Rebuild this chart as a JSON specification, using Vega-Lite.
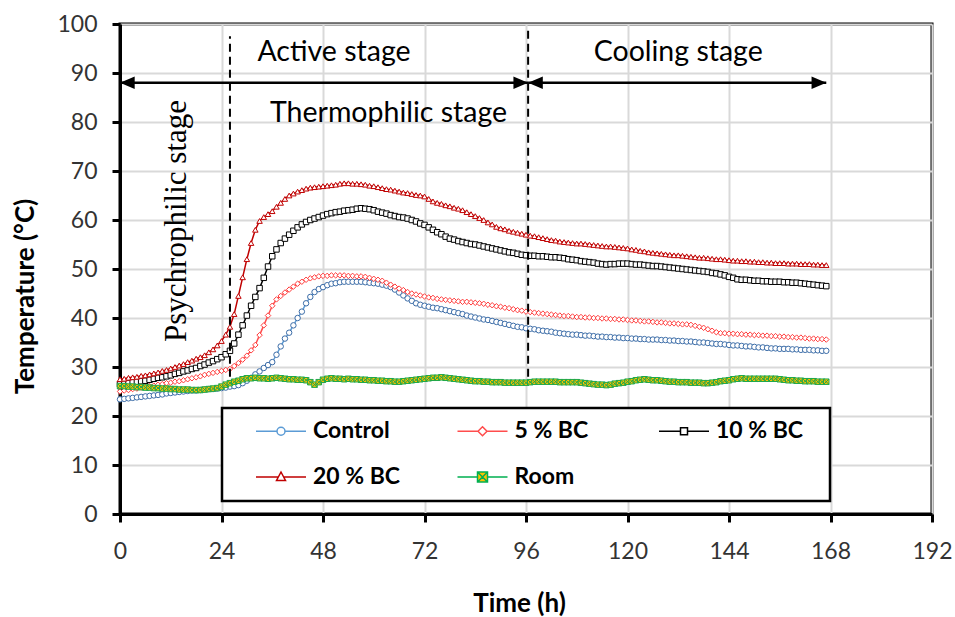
{
"$schema":"https://vega.github.io/schema/vega-lite/v6.json",
"width":812,"height":490,
"autosize":{"type":"none"},
"padding":{"left":120,"top":24,"right":23,"bottom":103},
"background":"white",
"config":{
 "font":"Lato",
 "view":{"stroke":"black","strokeWidth":3},
 "axis":{"domainColor":"black","domainWidth":3,"tickColor":"black","tickWidth":3,"tickSize":8,"gridColor":"#D9D9D9","gridWidth":2,"labelFont":"Lato","labelFontSize":23,"labelColor":"#333333","labelFlush":false,"titleFont":"Lato","titleFontWeight":"bold","titleFontSize":26,"titleColor":"black"}
},
"datasets":{
"main":[
{"t":0,"c":23.4,"b5":25.0,"b10":26.5,"b20":27.5,"r":26.1},
{"t":1,"c":23.5,"b5":25.2,"b10":26.6,"b20":27.6,"r":26.1},
{"t":2,"c":23.6,"b5":25.3,"b10":26.7,"b20":27.8,"r":26.0},
{"t":3,"c":23.7,"b5":25.5,"b10":26.9,"b20":27.9,"r":26.0},
{"t":4,"c":23.8,"b5":25.6,"b10":27.0,"b20":28.0,"r":25.9},
{"t":5,"c":23.9,"b5":25.8,"b10":27.1,"b20":28.2,"r":25.9},
{"t":6,"c":24.0,"b5":25.9,"b10":27.2,"b20":28.3,"r":25.8},
{"t":7,"c":24.1,"b5":26.1,"b10":27.4,"b20":28.5,"r":25.8},
{"t":8,"c":24.2,"b5":26.2,"b10":27.6,"b20":28.7,"r":25.7},
{"t":9,"c":24.3,"b5":26.4,"b10":27.8,"b20":28.9,"r":25.7},
{"t":10,"c":24.4,"b5":26.5,"b10":27.9,"b20":29.2,"r":25.6},
{"t":11,"c":24.6,"b5":26.7,"b10":28.1,"b20":29.4,"r":25.6},
{"t":12,"c":24.7,"b5":26.8,"b10":28.3,"b20":29.7,"r":25.5},
{"t":13,"c":24.8,"b5":27.0,"b10":28.6,"b20":30.0,"r":25.5},
{"t":14,"c":24.9,"b5":27.1,"b10":28.8,"b20":30.3,"r":25.4},
{"t":15,"c":25.0,"b5":27.3,"b10":29.1,"b20":30.6,"r":25.4},
{"t":16,"c":25.1,"b5":27.5,"b10":29.3,"b20":31.0,"r":25.4},
{"t":17,"c":25.2,"b5":27.7,"b10":29.6,"b20":31.3,"r":25.3},
{"t":18,"c":25.2,"b5":27.9,"b10":29.8,"b20":31.7,"r":25.3},
{"t":19,"c":25.3,"b5":28.1,"b10":30.2,"b20":32.0,"r":25.3},
{"t":20,"c":25.4,"b5":28.4,"b10":30.5,"b20":32.4,"r":25.4},
{"t":21,"c":25.5,"b5":28.6,"b10":30.9,"b20":33.0,"r":25.5},
{"t":22,"c":25.5,"b5":28.8,"b10":31.2,"b20":33.6,"r":25.6},
{"t":23,"c":25.6,"b5":29.0,"b10":31.6,"b20":34.4,"r":25.7},
{"t":24,"c":25.7,"b5":29.2,"b10":32.0,"b20":35.3,"r":26.0},
{"t":25,"c":25.8,"b5":29.4,"b10":32.6,"b20":36.6,"r":26.4},
{"t":26,"c":26.0,"b5":29.6,"b10":33.3,"b20":38.2,"r":26.7},
{"t":27,"c":26.1,"b5":30.2,"b10":34.8,"b20":40.8,"r":27.0},
{"t":28,"c":26.3,"b5":30.8,"b10":36.6,"b20":44.5,"r":27.2},
{"t":29,"c":26.7,"b5":31.5,"b10":38.5,"b20":48.3,"r":27.5},
{"t":30,"c":27.2,"b5":32.3,"b10":40.5,"b20":52.0,"r":27.7},
{"t":31,"c":27.8,"b5":33.4,"b10":42.5,"b20":55.3,"r":27.7},
{"t":32,"c":28.5,"b5":34.5,"b10":44.3,"b20":58.0,"r":27.8},
{"t":33,"c":29.1,"b5":36.5,"b10":46.1,"b20":59.8,"r":27.7},
{"t":34,"c":29.8,"b5":38.5,"b10":48.2,"b20":60.6,"r":27.7},
{"t":35,"c":30.4,"b5":40.5,"b10":50.5,"b20":61.2,"r":27.6},
{"t":36,"c":31.0,"b5":42.5,"b10":52.6,"b20":61.8,"r":27.7},
{"t":37,"c":32.5,"b5":43.8,"b10":54.0,"b20":62.7,"r":27.8},
{"t":38,"c":34.2,"b5":44.5,"b10":55.3,"b20":63.5,"r":27.7},
{"t":39,"c":35.8,"b5":45.2,"b10":56.2,"b20":64.3,"r":27.6},
{"t":40,"c":37.0,"b5":45.8,"b10":57.0,"b20":65.0,"r":27.5},
{"t":41,"c":38.5,"b5":46.4,"b10":57.8,"b20":65.4,"r":27.5},
{"t":42,"c":40.0,"b5":47.0,"b10":58.5,"b20":65.8,"r":27.4},
{"t":43,"c":41.3,"b5":47.4,"b10":59.1,"b20":66.1,"r":27.4},
{"t":44,"c":43.0,"b5":47.8,"b10":59.6,"b20":66.4,"r":27.3},
{"t":45,"c":44.3,"b5":48.1,"b10":60.0,"b20":66.6,"r":26.9},
{"t":46,"c":45.3,"b5":48.3,"b10":60.3,"b20":66.7,"r":26.4},
{"t":47,"c":45.9,"b5":48.5,"b10":60.6,"b20":66.8,"r":26.9},
{"t":48,"c":46.3,"b5":48.6,"b10":60.9,"b20":66.9,"r":27.4},
{"t":49,"c":46.7,"b5":48.6,"b10":61.2,"b20":67.0,"r":27.6},
{"t":50,"c":47.0,"b5":48.7,"b10":61.4,"b20":67.1,"r":27.7},
{"t":51,"c":47.1,"b5":48.7,"b10":61.6,"b20":67.2,"r":27.6},
{"t":52,"c":47.3,"b5":48.7,"b10":61.7,"b20":67.4,"r":27.6},
{"t":53,"c":47.4,"b5":48.7,"b10":61.9,"b20":67.5,"r":27.5},
{"t":54,"c":47.4,"b5":48.6,"b10":62.0,"b20":67.5,"r":27.6},
{"t":55,"c":47.4,"b5":48.6,"b10":62.1,"b20":67.4,"r":27.5},
{"t":56,"c":47.4,"b5":48.5,"b10":62.3,"b20":67.4,"r":27.5},
{"t":57,"c":47.4,"b5":48.5,"b10":62.4,"b20":67.3,"r":27.4},
{"t":58,"c":47.3,"b5":48.4,"b10":62.3,"b20":67.2,"r":27.4},
{"t":59,"c":47.2,"b5":48.2,"b10":62.2,"b20":67.0,"r":27.3},
{"t":60,"c":47.1,"b5":48.0,"b10":62.0,"b20":66.9,"r":27.3},
{"t":61,"c":47.0,"b5":47.8,"b10":61.7,"b20":66.7,"r":27.2},
{"t":62,"c":46.8,"b5":47.6,"b10":61.5,"b20":66.5,"r":27.2},
{"t":63,"c":46.6,"b5":47.2,"b10":61.3,"b20":66.3,"r":27.1},
{"t":64,"c":46.3,"b5":46.8,"b10":61.0,"b20":66.2,"r":27.1},
{"t":65,"c":45.8,"b5":46.4,"b10":60.8,"b20":66.0,"r":27.0},
{"t":66,"c":45.2,"b5":46.0,"b10":60.6,"b20":65.8,"r":27.0},
{"t":67,"c":44.6,"b5":45.7,"b10":60.5,"b20":65.6,"r":27.1},
{"t":68,"c":44.0,"b5":45.3,"b10":60.3,"b20":65.5,"r":27.2},
{"t":69,"c":43.5,"b5":45.0,"b10":60.0,"b20":65.3,"r":27.3},
{"t":70,"c":43.0,"b5":44.8,"b10":59.7,"b20":65.1,"r":27.4},
{"t":71,"c":42.7,"b5":44.6,"b10":59.3,"b20":65.0,"r":27.5},
{"t":72,"c":42.5,"b5":44.4,"b10":59.0,"b20":64.8,"r":27.6},
{"t":73,"c":42.3,"b5":44.2,"b10":58.5,"b20":64.3,"r":27.7},
{"t":74,"c":42.1,"b5":44.1,"b10":58.0,"b20":63.8,"r":27.8},
{"t":75,"c":42.0,"b5":43.9,"b10":57.5,"b20":63.5,"r":27.8},
{"t":76,"c":41.8,"b5":43.8,"b10":57.1,"b20":63.3,"r":27.9},
{"t":77,"c":41.6,"b5":43.7,"b10":56.6,"b20":63.0,"r":27.8},
{"t":78,"c":41.4,"b5":43.6,"b10":56.2,"b20":62.8,"r":27.7},
{"t":79,"c":41.2,"b5":43.5,"b10":56.0,"b20":62.5,"r":27.6},
{"t":80,"c":41.0,"b5":43.4,"b10":55.7,"b20":62.3,"r":27.5},
{"t":81,"c":40.8,"b5":43.3,"b10":55.5,"b20":62.0,"r":27.4},
{"t":82,"c":40.5,"b5":43.3,"b10":55.3,"b20":61.6,"r":27.3},
{"t":83,"c":40.3,"b5":43.2,"b10":55.1,"b20":61.2,"r":27.2},
{"t":84,"c":40.1,"b5":43.1,"b10":55.0,"b20":60.8,"r":27.1},
{"t":85,"c":39.9,"b5":43.0,"b10":54.8,"b20":60.4,"r":27.1},
{"t":86,"c":39.7,"b5":42.9,"b10":54.6,"b20":60.0,"r":27.0},
{"t":87,"c":39.6,"b5":42.7,"b10":54.4,"b20":59.5,"r":27.0},
{"t":88,"c":39.4,"b5":42.6,"b10":54.2,"b20":59.1,"r":26.9},
{"t":89,"c":39.2,"b5":42.4,"b10":54.0,"b20":58.6,"r":26.9},
{"t":90,"c":39.0,"b5":42.3,"b10":53.8,"b20":58.3,"r":26.9},
{"t":91,"c":38.8,"b5":42.1,"b10":53.6,"b20":58.1,"r":26.8},
{"t":92,"c":38.6,"b5":42.0,"b10":53.4,"b20":57.8,"r":26.8},
{"t":93,"c":38.4,"b5":41.8,"b10":53.3,"b20":57.6,"r":26.8},
{"t":94,"c":38.2,"b5":41.6,"b10":53.1,"b20":57.4,"r":26.8},
{"t":95,"c":38.1,"b5":41.5,"b10":52.9,"b20":57.2,"r":26.8},
{"t":96,"c":37.9,"b5":41.3,"b10":52.8,"b20":57.0,"r":26.8},
{"t":97,"c":37.8,"b5":41.2,"b10":52.7,"b20":56.8,"r":26.9},
{"t":98,"c":37.7,"b5":41.1,"b10":52.7,"b20":56.7,"r":27.0},
{"t":99,"c":37.5,"b5":41.0,"b10":52.6,"b20":56.5,"r":27.0},
{"t":100,"c":37.4,"b5":40.9,"b10":52.6,"b20":56.3,"r":27.0},
{"t":101,"c":37.3,"b5":40.8,"b10":52.5,"b20":56.1,"r":27.0},
{"t":102,"c":37.2,"b5":40.7,"b10":52.4,"b20":55.9,"r":27.0},
{"t":103,"c":37.0,"b5":40.6,"b10":52.4,"b20":55.8,"r":27.0},
{"t":104,"c":36.9,"b5":40.5,"b10":52.3,"b20":55.6,"r":26.9},
{"t":105,"c":36.8,"b5":40.4,"b10":52.2,"b20":55.5,"r":26.9},
{"t":106,"c":36.7,"b5":40.4,"b10":52.0,"b20":55.4,"r":26.9},
{"t":107,"c":36.6,"b5":40.3,"b10":51.9,"b20":55.3,"r":26.9},
{"t":108,"c":36.6,"b5":40.2,"b10":51.8,"b20":55.2,"r":26.9},
{"t":109,"c":36.5,"b5":40.2,"b10":51.6,"b20":55.2,"r":26.8},
{"t":110,"c":36.4,"b5":40.1,"b10":51.5,"b20":55.1,"r":26.7},
{"t":111,"c":36.4,"b5":40.1,"b10":51.4,"b20":55.0,"r":26.6},
{"t":112,"c":36.3,"b5":40.0,"b10":51.3,"b20":54.9,"r":26.5},
{"t":113,"c":36.2,"b5":40.0,"b10":51.1,"b20":54.8,"r":26.4},
{"t":114,"c":36.2,"b5":39.9,"b10":51.0,"b20":54.7,"r":26.4},
{"t":115,"c":36.1,"b5":39.9,"b10":50.9,"b20":54.6,"r":26.3},
{"t":116,"c":36.1,"b5":39.8,"b10":51.0,"b20":54.6,"r":26.4},
{"t":117,"c":36.0,"b5":39.8,"b10":51.0,"b20":54.5,"r":26.6},
{"t":118,"c":36.0,"b5":39.7,"b10":51.1,"b20":54.4,"r":26.7},
{"t":119,"c":35.9,"b5":39.7,"b10":51.1,"b20":54.3,"r":26.8},
{"t":120,"c":35.9,"b5":39.6,"b10":51.1,"b20":54.2,"r":27.0},
{"t":121,"c":35.8,"b5":39.5,"b10":51.0,"b20":54.0,"r":27.1},
{"t":122,"c":35.8,"b5":39.5,"b10":50.9,"b20":53.9,"r":27.3},
{"t":123,"c":35.7,"b5":39.4,"b10":50.9,"b20":53.7,"r":27.4},
{"t":124,"c":35.7,"b5":39.3,"b10":50.8,"b20":53.6,"r":27.5},
{"t":125,"c":35.6,"b5":39.3,"b10":50.7,"b20":53.4,"r":27.4},
{"t":126,"c":35.6,"b5":39.2,"b10":50.6,"b20":53.3,"r":27.3},
{"t":127,"c":35.6,"b5":39.1,"b10":50.6,"b20":53.2,"r":27.3},
{"t":128,"c":35.5,"b5":39.1,"b10":50.5,"b20":53.1,"r":27.2},
{"t":129,"c":35.5,"b5":39.0,"b10":50.4,"b20":53.0,"r":27.1},
{"t":130,"c":35.4,"b5":38.9,"b10":50.3,"b20":52.9,"r":27.0},
{"t":131,"c":35.4,"b5":38.9,"b10":50.2,"b20":52.8,"r":27.0},
{"t":132,"c":35.3,"b5":38.8,"b10":50.1,"b20":52.8,"r":26.9},
{"t":133,"c":35.3,"b5":38.7,"b10":50.0,"b20":52.7,"r":26.9},
{"t":134,"c":35.2,"b5":38.7,"b10":49.9,"b20":52.6,"r":26.9},
{"t":135,"c":35.2,"b5":38.6,"b10":49.8,"b20":52.5,"r":26.8},
{"t":136,"c":35.1,"b5":38.4,"b10":49.7,"b20":52.4,"r":26.8},
{"t":137,"c":35.0,"b5":38.2,"b10":49.6,"b20":52.3,"r":26.8},
{"t":138,"c":35.0,"b5":38.0,"b10":49.5,"b20":52.3,"r":26.7},
{"t":139,"c":34.9,"b5":37.7,"b10":49.4,"b20":52.2,"r":26.7},
{"t":140,"c":34.8,"b5":37.4,"b10":49.2,"b20":52.1,"r":26.8},
{"t":141,"c":34.7,"b5":37.1,"b10":49.1,"b20":52.0,"r":26.9},
{"t":142,"c":34.7,"b5":36.9,"b10":48.9,"b20":52.0,"r":27.1},
{"t":143,"c":34.6,"b5":36.9,"b10":48.7,"b20":51.9,"r":27.2},
{"t":144,"c":34.5,"b5":36.8,"b10":48.4,"b20":51.8,"r":27.3},
{"t":145,"c":34.4,"b5":36.8,"b10":48.2,"b20":51.7,"r":27.5},
{"t":146,"c":34.4,"b5":36.7,"b10":47.9,"b20":51.7,"r":27.6},
{"t":147,"c":34.3,"b5":36.7,"b10":47.8,"b20":51.6,"r":27.7},
{"t":148,"c":34.2,"b5":36.6,"b10":47.8,"b20":51.6,"r":27.6},
{"t":149,"c":34.2,"b5":36.6,"b10":47.7,"b20":51.5,"r":27.6},
{"t":150,"c":34.1,"b5":36.5,"b10":47.6,"b20":51.5,"r":27.6},
{"t":151,"c":34.0,"b5":36.5,"b10":47.6,"b20":51.4,"r":27.6},
{"t":152,"c":34.0,"b5":36.4,"b10":47.5,"b20":51.4,"r":27.6},
{"t":153,"c":33.9,"b5":36.4,"b10":47.5,"b20":51.3,"r":27.6},
{"t":154,"c":33.8,"b5":36.3,"b10":47.4,"b20":51.3,"r":27.6},
{"t":155,"c":33.8,"b5":36.3,"b10":47.4,"b20":51.2,"r":27.6},
{"t":156,"c":33.7,"b5":36.2,"b10":47.4,"b20":51.2,"r":27.5},
{"t":157,"c":33.7,"b5":36.2,"b10":47.3,"b20":51.2,"r":27.4},
{"t":158,"c":33.7,"b5":36.1,"b10":47.3,"b20":51.1,"r":27.3},
{"t":159,"c":33.6,"b5":36.1,"b10":47.2,"b20":51.1,"r":27.3},
{"t":160,"c":33.6,"b5":36.0,"b10":47.2,"b20":51.1,"r":27.2},
{"t":161,"c":33.5,"b5":36.0,"b10":47.1,"b20":51.0,"r":27.2},
{"t":162,"c":33.5,"b5":35.9,"b10":47.0,"b20":51.0,"r":27.1},
{"t":163,"c":33.5,"b5":35.8,"b10":46.9,"b20":51.0,"r":27.1},
{"t":164,"c":33.4,"b5":35.8,"b10":46.8,"b20":50.9,"r":27.1},
{"t":165,"c":33.4,"b5":35.7,"b10":46.7,"b20":50.9,"r":27.0},
{"t":166,"c":33.3,"b5":35.7,"b10":46.6,"b20":50.8,"r":27.0},
{"t":167,"c":33.3,"b5":35.6,"b10":46.5,"b20":50.8,"r":27.0}
],
"vlines":[{"t":26,"y1":28,"y2":97.5},{"t":96.5,"y1":28,"y2":99.5}],
"arrows":[{"x1":0,"x2":96.5,"y":88},{"x1":96.5,"x2":167,"y":88}],
"headsL":[{"t":0,"y":88},{"t":96.5,"y":88}],
"headsR":[{"t":96.5,"y":88},{"t":167,"y":88}],
"labels":[{"t":50.6,"y":92.5,"txt":"Active stage"},{"t":63.5,"y":80.1,"txt":"Thermophilic stage"},{"t":132,"y":92.5,"txt":"Cooling stage"}],
"vlabel":[{"t":15.7,"y":59.8,"txt":"Psychrophilic stage"}]
},
"layer":[
{
 "data":{"name":"main"},
 "transform":[{"fold":["c","b5","b10","b20","r"],"as":["s","v"]}],
 "mark":{"type":"line","strokeWidth":1.5},
 "encoding":{
  "x":{"field":"t","type":"quantitative","scale":{"domain":[0,192],"nice":false,"zero":false},
       "axis":{"values":[0,24,48,72,96,120,144,168,192],"title":"Time (h)","grid":true,"labelBaseline":"middle","labelPadding":29,"titleX":399,"titleY":89,"titleBaseline":"middle"}},
  "y":{"field":"v","type":"quantitative","scale":{"domain":[0,100],"nice":false},
       "axis":{"values":[0,10,20,30,40,50,60,70,80,90,100],"title":"Temperature (°C)","grid":true,"labelPadding":15,"titleX":-95,"titleY":272,"titleBaseline":"middle"}},
  "detail":{"field":"s"},
  "color":{"field":"s","type":"nominal",
    "scale":{"domain":["c","b5","b10","b20","r"],"range":["#5B9BD5","#FF4D4D","#000000","#C00000","#00B050"]},
    "legend":{"orient":"none","direction":"horizontal","legendX":102,"legendY":384,"title":null,"columns":3,"gridAlign":"all","columnPadding":16.5,"rowPadding":22,"padding":11.5,
      "strokeColor":"black","fillColor":"white","symbolSize":400,"symbolStrokeWidth":1.5,"symbolOffset":36,"labelOffset":20.5,
      "labelFont":"Lato","labelFontSize":23,"labelFontWeight":"bold","labelColor":"black",
      "labelExpr":"datum.value=='c'?'Control':datum.value=='b5'?'5 % BC':datum.value=='b10'?'10 % BC':datum.value=='b20'?'20 % BC':'Room'",
      "encode":{
        "legend":{"update":{"strokeWidth":{"value":2.5}}},
        "symbols":{"update":{
          "shape":{"signal":"datum.value=='c'?'M-4.75,0M13.15,0M-2.5,0L-0.4,0M0.4,0L2.5,0M0.4,0A0.4,0.4,0,1,1,-0.4,0A0.4,0.4,0,1,1,0.4,0Z':datum.value=='b5'?'M-4.75,0M13.15,0M-2.5,0L-0.45,0M0.45,0L2.5,0M0,-0.45L0.45,0L0,0.45L-0.45,0Z':datum.value=='b10'?'M-4.75,0M13.15,0M-2.5,0L-0.35,0M0.35,0L2.5,0M-0.35,-0.35L0.35,-0.35L0.35,0.35L-0.35,0.35Z':datum.value=='b20'?'M-4.75,0M13.15,0M-2.5,0L-0.3,0M0.3,0L2.5,0M0,-0.5L0.45,0.35L-0.45,0.35Z':'M-4.75,0M13.15,0M-2.5,0L-0.5,0M0.5,0L2.5,0M-0.5,-0.5L0.5,-0.5L0.5,0.5L-0.5,0.5ZM-0.5,-0.5L0.5,0.5M0.5,-0.5L-0.5,0.5'"},
          "fill":{"signal":"datum.value=='r'?'#FFC000':'white'"},
          "opacity":{"value":1}
        }}
      }
    }
  }
 }
},
{
 "data":{"name":"main"},
 "transform":[{"fold":["c"],"as":["s","v"]}],
 "mark":{"type":"point","shape":"circle","size":30,"strokeWidth":1,"stroke":"#3C6DA8","fill":"white","opacity":1,"filled":true},
 "encoding":{"x":{"field":"t","type":"quantitative"},"y":{"field":"v","type":"quantitative"}}
},
{
 "data":{"name":"main"},
 "transform":[{"fold":["b5"],"as":["s","v"]}],
 "mark":{"type":"point","shape":"diamond","size":30,"strokeWidth":1,"stroke":"#FF3B3B","fill":"white","opacity":1,"filled":true},
 "encoding":{"x":{"field":"t","type":"quantitative"},"y":{"field":"v","type":"quantitative"}}
},
{
 "data":{"name":"main"},
 "transform":[{"fold":["b10"],"as":["s","v"]}],
 "mark":{"type":"point","shape":"square","size":30,"strokeWidth":1,"stroke":"#000000","fill":"white","opacity":1,"filled":true},
 "encoding":{"x":{"field":"t","type":"quantitative"},"y":{"field":"v","type":"quantitative"}}
},
{
 "data":{"name":"main"},
 "transform":[{"fold":["b20"],"as":["s","v"]}],
 "mark":{"type":"point","shape":"triangle-up","size":30,"strokeWidth":1,"stroke":"#C00000","fill":"white","opacity":1,"filled":true},
 "encoding":{"x":{"field":"t","type":"quantitative"},"y":{"field":"v","type":"quantitative"}}
},
{
 "data":{"name":"main"},
 "transform":[{"fold":["r"],"as":["s","v"]}],
 "mark":{"type":"point","shape":"M-1,-1L1,-1L1,1L-1,1ZM-1,-1L1,1M1,-1L-1,1","size":30,"strokeWidth":1,"stroke":"#1FA84A","fill":"#FFC000","opacity":1,"filled":true},
 "encoding":{"x":{"field":"t","type":"quantitative"},"y":{"field":"v","type":"quantitative"}}
},
{
 "data":{"name":"vlines"},
 "mark":{"type":"rule","strokeDash":[8,5],"strokeWidth":2,"color":"black"},
 "encoding":{"x":{"field":"t","type":"quantitative"},"y":{"field":"y1","type":"quantitative"},"y2":{"field":"y2"}}
},
{
 "data":{"name":"arrows"},
 "mark":{"type":"rule","strokeWidth":2.5,"color":"black"},
 "encoding":{"x":{"field":"x1","type":"quantitative"},"x2":{"field":"x2"},"y":{"field":"y","type":"quantitative"}}
},
{
 "data":{"name":"headsL"},
 "mark":{"type":"point","filled":true,"size":196,"color":"black","opacity":1,"strokeWidth":0,"shape":"M0,0L2.1,-0.9L2.1,0.9Z"},
 "encoding":{"x":{"field":"t","type":"quantitative"},"y":{"field":"y","type":"quantitative"}}
},
{
 "data":{"name":"headsR"},
 "mark":{"type":"point","filled":true,"size":196,"color":"black","opacity":1,"strokeWidth":0,"shape":"M0,0L-2.1,-0.9L-2.1,0.9Z"},
 "encoding":{"x":{"field":"t","type":"quantitative"},"y":{"field":"y","type":"quantitative"}}
},
{
 "data":{"name":"labels"},
 "mark":{"type":"text","font":"Lato","fontSize":28.5,"color":"black","align":"center","baseline":"alphabetic"},
 "encoding":{"x":{"field":"t","type":"quantitative"},"y":{"field":"y","type":"quantitative"},"text":{"field":"txt"}}
},
{
 "data":{"name":"vlabel"},
 "mark":{"type":"text","font":"Liberation Serif","fontSize":31,"color":"black","align":"center","baseline":"alphabetic","angle":270},
 "encoding":{"x":{"field":"t","type":"quantitative"},"y":{"field":"y","type":"quantitative"},"text":{"field":"txt"}}
}
]
}
